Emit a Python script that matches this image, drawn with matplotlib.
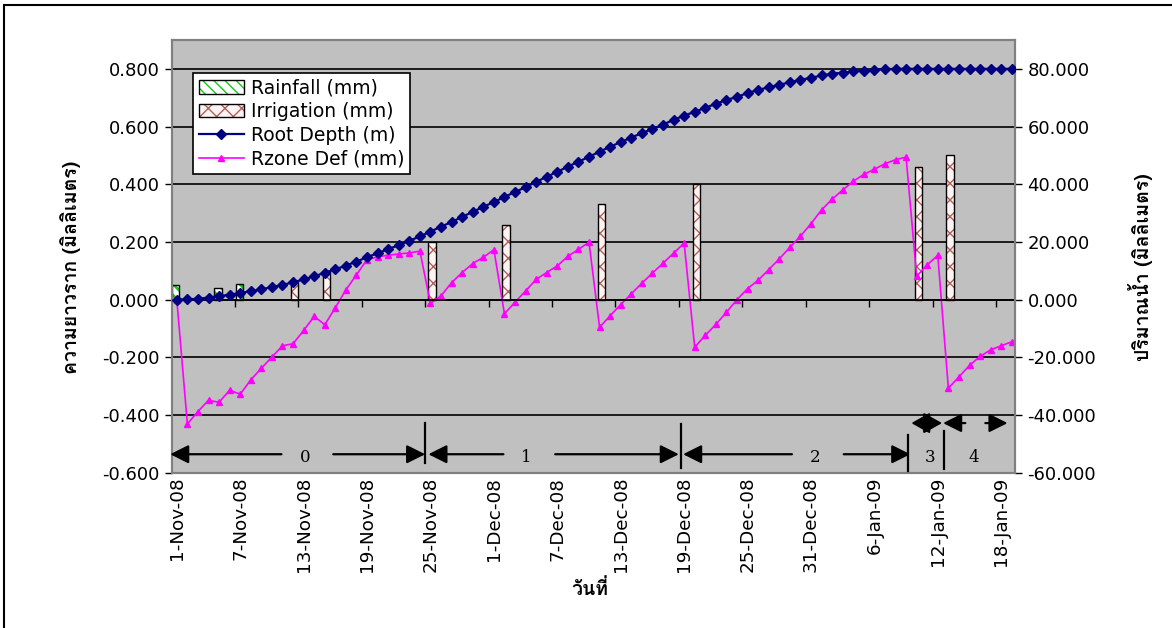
import numpy as np
import pandas as pd
import matplotlib
matplotlib.use('Agg')
import matplotlib.pyplot as plt
from matplotlib import font_manager
from matplotlib.ft2font import FT2Font
from matplotlib.patches import Patch, Rectangle
from matplotlib.lines import Line2D
from matplotlib.legend_handler import HandlerTuple
from matplotlib.ticker import FormatStrFormatter

# daily series, 1-Nov-08 .. 19-Jan-09
dates = pd.date_range('2008-11-01', periods=80)

root_depth = [0.000, 0.001, 0.003, 0.007, 0.012, 0.017, 0.023, 0.029, 0.036, 0.043,
              0.051, 0.060, 0.070, 0.081, 0.093, 0.105, 0.118, 0.132, 0.147, 0.161,
              0.175, 0.189, 0.204, 0.219, 0.236, 0.253, 0.269, 0.287, 0.304, 0.322,
              0.338, 0.356, 0.373, 0.390, 0.408, 0.426, 0.443, 0.461, 0.478, 0.495,
              0.513, 0.530, 0.546, 0.562, 0.577, 0.592, 0.607, 0.623, 0.638, 0.651,
              0.665, 0.679, 0.692, 0.703, 0.716, 0.727, 0.736, 0.745, 0.753, 0.762,
              0.769, 0.777, 0.783, 0.787, 0.791, 0.794, 0.797, 0.799, 0.800, 0.800,
              0.800, 0.800, 0.800, 0.800, 0.800, 0.800, 0.800, 0.800, 0.800, 0.800]

rzone_def = [0.0, -43.1, -38.8, -34.9, -35.6, -31.4, -32.8, -27.8, -23.8, -19.9,
             -16.0, -15.3, -10.7, -5.8, -8.7, -2.8, 3.4, 8.6, 13.9, 14.8,
             15.4, 15.8, 16.2, 16.8, -1.3, 1.3, 5.9, 9.4, 12.5, 14.7,
             17.3, -4.9, -0.9, 3.0, 7.0, 9.4, 11.7, 15.0, 17.4, 19.9,
             -9.6, -5.6, -1.7, 2.0, 5.7, 9.2, 12.6, 16.1, 19.6, -16.5,
             -12.4, -8.6, -4.4, 0.0, 3.8, 6.7, 10.4, 14.1, 18.1, 22.0,
             26.3, 31.1, 34.8, 38.0, 41.0, 43.4, 45.2, 47.1, 48.5, 49.4,
             8.1, 12.1, 15.3, -30.7, -26.8, -22.8, -19.7, -17.4, -16.0, -14.6]

rain_day = [0, 4, 6]
rain_mm = [5.0, 4.2, 5.4]
irr_day = [11, 14, 24, 31, 40, 49, 70, 73]
irr_mm = [6.0, 10.0, 20.0, 26.0, 33.0, 40.0, 46.0, 50.0]

# growth stages (day positions of arrows)
stage_names = ['0', '1', '2', '3', '4']
stage_from = [-0.63, 23.8, 47.9, 69.5, 72.5]
stage_to = [23.5, 47.5, 69.4, 72.4, 78.6]
stage_text_x = [12.1, 33.1, 60.4, 71.3, 75.4]
stage_bounds = [23.5, 47.7, 69.2, 72.6]

# find a font with thai glyphs
thai_font = None
for f in font_manager.fontManager.ttflist:
    try:
        if 0x0E27 in FT2Font(f.fname).get_charmap():
            thai_font = f.name
            break
    except Exception:
        pass
base_fams = ['DejaVu Sans'] + ([thai_font] if thai_font else [])
thai_fams = ([thai_font] if thai_font else []) + ['DejaVu Sans']
plt.rcParams['font.family'] = base_fams

x = np.arange(len(dates))

fig = plt.figure(figsize=(11.72, 6.28), dpi=100)
ax = fig.add_axes([0.1468, 0.2473, 0.7192, 0.689])
ax2 = ax.twinx()
ax.set_zorder(2)
ax.patch.set_visible(False)
ax2.set_zorder(1)
ax2.patch.set_visible(True)
ax2.set_facecolor('#C0C0C0')

rain_col = '#11CC11'
irr_col = '#B0605A'
rain_hatch = '\\\\\\'

# bars on the mm axis
plt.rcParams['hatch.linewidth'] = 2.0
ax2.bar(np.array(rain_day) - 0.1, rain_mm, width=0.68, facecolor='white',
        edgecolor=rain_col, hatch=rain_hatch, linewidth=0, zorder=2)
rain_p = Patch(facecolor='white', edgecolor=rain_col, hatch=rain_hatch, lw=0)
plt.rcParams['hatch.linewidth'] = 1.0
ax2.bar(np.array(rain_day) - 0.1, rain_mm, width=0.68, facecolor='none',
        edgecolor='black', linewidth=1.0, zorder=3)
ax2.bar(np.array(irr_day) + 0.15, irr_mm, width=0.68, facecolor='#FFF4F4',
        edgecolor=irr_col, hatch='xx', linewidth=0, zorder=2)
ax2.bar(np.array(irr_day) + 0.15, irr_mm, width=0.68, facecolor='none',
        edgecolor='black', linewidth=1.0, zorder=3)
ax2.plot(x, rzone_def, color='#FF00FF', lw=1.2, marker='^', ms=4.5, zorder=4)

ax.plot(x, root_depth, color='#000080', lw=1.6, marker='D', ms=5.3, zorder=4)

ax.set_xlim(-0.45, 79.3)
ax.set_ylim(-0.6, 0.9)
ax2.set_ylim(-60, 90)
ax.set_yticks(np.arange(-0.6, 0.81, 0.2))
ax2.set_yticks(np.arange(-60, 81, 20))
ax.yaxis.set_major_formatter(FormatStrFormatter('%.3f'))
ax2.yaxis.set_major_formatter(FormatStrFormatter('%.3f'))
ax.tick_params(axis='y', labelsize=13, length=5, width=1, color='black', pad=4)
ax2.tick_params(axis='y', labelsize=13, length=5, width=1, color='black', pad=4)

ax2.set_axisbelow(True)
ax2.yaxis.grid(True, color='black', lw=1.2)

tick_days = x[::6]
ax.set_xticks(tick_days)
ax.set_xticklabels(['{}-{}'.format(d.day, d.strftime('%b-%y')) for d in dates[::6]],
                   rotation=90, fontsize=13.2)
ax.tick_params(axis='x', length=0, pad=3)

for a in (ax, ax2):
    for s in a.spines.values():
        s.set_color('#808080')
        s.set_linewidth(1.5)

# category axis crossing at zero
zero_loc = (0 - (-0.6)) / (0.9 - (-0.6))
sec = ax.secondary_xaxis(zero_loc)
sec.set_xticks(np.arange(-0.5, 80, 6))
sec.tick_params(axis='x', direction='out', length=5, width=1, color='black',
                labelbottom=False, labeltop=False)
sec.spines['bottom'].set_color('black')
sec.spines['bottom'].set_linewidth(1.2)
for s in ('top', 'left', 'right'):
    sec.spines[s].set_visible(False)

# stage arrows
arw = dict(arrowstyle='-|>,head_length=0.8,head_width=0.4', color='black',
           lw=1.6, shrinkA=0, shrinkB=0, mutation_scale=14)
arw2 = dict(arrowstyle='<|-|>,head_length=0.8,head_width=0.45', color='black',
            lw=1.6, shrinkA=0, shrinkB=0, mutation_scale=14)
for i in range(3):
    y0 = -0.536
    ax.annotate('', xy=(stage_from[i], y0), xytext=(stage_text_x[i] - 2.2, y0),
                arrowprops=arw, annotation_clip=False)
    ax.annotate('', xy=(stage_to[i], y0), xytext=(stage_text_x[i] + 2.7, y0),
                arrowprops=arw, annotation_clip=False)
    ax.text(stage_text_x[i], y0 - 0.013, stage_names[i], ha='center', va='center',
            family='DejaVu Serif', fontsize=12)
ax.annotate('', xy=(stage_from[3], -0.428), xytext=(stage_to[3], -0.428),
            arrowprops=arw2, annotation_clip=False)
ax.text(stage_text_x[3], -0.546, stage_names[3], ha='center', va='center',
        family='DejaVu Serif', fontsize=12)
ax.annotate('', xy=(stage_from[4], -0.428), xytext=(stage_from[4] + 2.1, -0.428),
            arrowprops=arw, annotation_clip=False)
ax.annotate('', xy=(stage_to[4], -0.428), xytext=(stage_to[4] - 2.1, -0.428),
            arrowprops=arw, annotation_clip=False)
ax.text(stage_text_x[4], -0.549, stage_names[4], ha='center', va='center',
        family='DejaVu Serif', fontsize=12)
bound_top = [-0.428, -0.430, -0.47, -0.456]
bound_bot = [-0.566, -0.582, -0.594, -0.588]
for bx, bt, bb in zip(stage_bounds, bound_top, bound_bot):
    ax.plot([bx, bx], [bt, bb], color='black', lw=1.6, zorder=5)

# legend
rain_h = (rain_p, Patch(facecolor='none', edgecolor='black', lw=1))
irr_h = (Patch(facecolor='#FFF4F4', edgecolor=irr_col, hatch='xx', lw=0),
         Patch(facecolor='none', edgecolor='black', lw=1))
rd_h = Line2D([], [], color='#000080', lw=1.6, marker='D', ms=5.3)
rz_h = Line2D([], [], color='#FF00FF', lw=1.2, marker='^', ms=4.5)
leg = ax.legend([rain_h, irr_h, rd_h, rz_h],
                ['Rainfall (mm)', 'Irrigation (mm)', 'Root Depth (m)', 'Rzone Def (mm)'],
                handler_map={tuple: HandlerTuple(ndivide=1)},
                loc='upper left', bbox_to_anchor=(0.025, 0.924), borderaxespad=0,
                fontsize=13.5, frameon=True, fancybox=False, framealpha=1,
                edgecolor='black', handlelength=2.4, labelspacing=0.25,
                borderpad=0.3, handletextpad=0.4)
leg.get_frame().set_linewidth(1.2)

# axis titles
fig.text(0.060, 0.575, 'ความยาวราก (มิลลิเมตร)', rotation=90, ha='center', va='center',
         fontsize=14, fontweight='bold', family=thai_fams)
fig.text(0.973, 0.575, 'ปริมาณน้ำ (มิลลิเมตร)', rotation=90, ha='center', va='center',
         fontsize=14, fontweight='bold', family=thai_fams)
fig.text(0.503, 0.062, 'วันที่', ha='center', va='center',
         fontsize=14, fontweight='bold', family=thai_fams)

# outer chart border (right/bottom edges fall outside the picture)
fig.patches.append(Rectangle((4 / 1172, -0.5), 2.0, 0.5 + 1 - 5 / 628, fill=False,
                             edgecolor='black', lw=1.5, transform=fig.transFigure))

fig.savefig('out.png', dpi=100)
